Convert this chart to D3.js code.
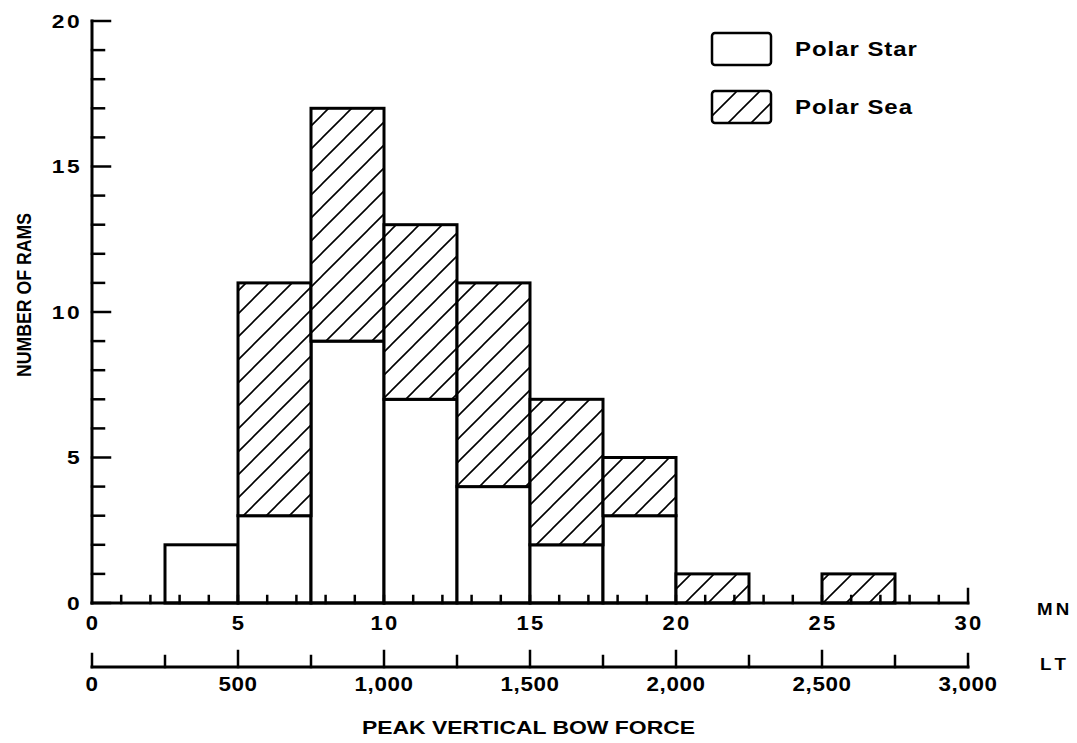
<!DOCTYPE html>
<html>
<head>
<meta charset="utf-8">
<script src="https://cdn.jsdelivr.net/npm/d3@7/dist/d3.min.js"></script>
<style>
  html, body { margin: 0; padding: 0; background: #fff; }
  svg { display: block; }
  text { font-family: "Liberation Sans", Arial, Helvetica, sans-serif; font-weight: bold; fill: #000; }
</style>
</head>
<body>
<svg id="chart" width="1077" height="743"></svg>
<script>
// Histogram bins (lower edge, MN) and counts per ship
const binStart   = [2.5, 5, 7.5, 10, 12.5, 15, 17.5, 20, 22.5, 25];
const binWidth   = 2.5;
const polarStar  = [2, 3, 9, 7, 4, 2, 3, 0, 0, 0];
const polarSea   = [0, 8, 8, 6, 7, 5, 2, 1, 0, 1];

// Axis tick values and labels
const yMajorTicks  = [0, 5, 10, 15, 20];
const yMinorTicks  = d3.range(0, 21);
const mnLabels     = [0, 5, 10, 15, 20, 25, 30];
const mnMinorTicks = d3.range(1, 31);
const ltLabels     = ["0", "500", "1,000", "1,500", "2,000", "2,500", "3,000"];
const ltTicks      = d3.range(0, 3001, 250);

const svg = d3.select("#chart");

const x  = d3.scaleLinear().domain([0, 30]).range([92, 968]);
const lt = d3.scaleLinear().domain([0, 3000]).range([92, 968]);
const y  = d3.scaleLinear().domain([0, 20]).range([603, 21]);

// Text helper: wide lettering, stretched horizontally about its anchor
function label(sel, { x0, y0, size, sx = 1, anchor = "start", spacing = 0, rotate = 0 }) {
  return sel.append("text")
    .attr("transform", `translate(${x0},${y0}) rotate(${rotate}) scale(${sx},1)`)
    .attr("dy", "0.36em")
    .attr("text-anchor", anchor)
    .attr("font-size", size)
    .attr("letter-spacing", spacing);
}

// Diagonal hatch pattern for Polar Sea
const defs = svg.append("defs");
const hatch = defs.append("pattern")
  .attr("id", "hatch")
  .attr("patternUnits", "userSpaceOnUse")
  .attr("width", 23).attr("height", 23);
hatch.append("rect").attr("width", 23).attr("height", 23).attr("fill", "#fff");
hatch.append("path")
  .attr("d", "M-6,6 L6,-6 M0,23 L23,0 M17,29 L29,17")
  .attr("stroke", "#000").attr("stroke-width", 1.6);

const bars = binStart.map((s, i) => ({ s, star: polarStar[i], sea: polarSea[i] }));

// Stacked bars: Polar Star at the bottom, Polar Sea above
const g = svg.append("g");
g.selectAll("rect.star").data(bars.filter(d => d.star > 0)).join("rect")
  .attr("class", "star")
  .attr("x", d => x(d.s))
  .attr("width", d => x(d.s + binWidth) - x(d.s))
  .attr("y", d => y(d.star))
  .attr("height", d => y(0) - y(d.star))
  .attr("fill", "#fff").attr("stroke", "#000").attr("stroke-width", 3);

g.selectAll("rect.sea").data(bars.filter(d => d.sea > 0)).join("rect")
  .attr("class", "sea")
  .attr("x", d => x(d.s))
  .attr("width", d => x(d.s + binWidth) - x(d.s))
  .attr("y", d => y(d.star + d.sea))
  .attr("height", d => y(d.star) - y(d.star + d.sea))
  .attr("fill", "url(#hatch)").attr("stroke", "#000").attr("stroke-width", 3);

// Y axis
const ax = svg.append("g").attr("stroke", "#000").attr("stroke-linecap", "square");
ax.append("line").attr("x1", x(0)).attr("x2", x(0)).attr("y1", y(20)).attr("y2", y(0)).attr("stroke-width", 3);
ax.selectAll("line.ytick").data(yMinorTicks).join("line")
  .attr("class", "ytick")
  .attr("x1", x(0)).attr("x2", d => x(0) + (d % 5 === 0 ? 18 : 12))
  .attr("y1", d => y(d)).attr("y2", d => y(d))
  .attr("stroke-width", 2.5);

yMajorTicks.forEach(d => {
  label(svg, { x0: 82, y0: y(d), size: 19, sx: 1.2, anchor: "end", spacing: 2 }).text(d);
});

// MN axis
ax.append("line").attr("x1", x(0)).attr("x2", x(30)).attr("y1", y(0)).attr("y2", y(0)).attr("stroke-width", 3);
ax.selectAll("line.mntick").data(mnMinorTicks).join("line")
  .attr("class", "mntick")
  .attr("x1", d => x(d)).attr("x2", d => x(d))
  .attr("y1", y(0)).attr("y2", d => y(0) - (d === 30 ? 14 : 7))
  .attr("stroke-width", 2.5);

mnLabels.forEach(d => {
  label(svg, { x0: x(d) + 1, y0: 623, size: 20, sx: 1.1, anchor: "middle", spacing: 2 }).text(d);
});

label(svg, { x0: 1037, y0: 609, size: 17, sx: 1.1, spacing: 3 }).text("MN");

// LT axis
const ltY = 667;
ax.append("line").attr("x1", lt(0)).attr("x2", lt(3000)).attr("y1", ltY).attr("y2", ltY).attr("stroke-width", 3);
ax.selectAll("line.lttick").data(ltTicks).join("line")
  .attr("class", "lttick")
  .attr("x1", d => lt(d)).attr("x2", d => lt(d))
  .attr("y1", ltY).attr("y2", d => ltY - (d === 0 || d === 3000 ? 13 : (d % 500 === 0 ? 16 : 11)))
  .attr("stroke-width", 2.5);

ltLabels.forEach((d, i) => {
  label(svg, { x0: lt(i * 500), y0: 684, size: 20, sx: 1.12, anchor: "middle", spacing: 0.5 }).text(d);
});

label(svg, { x0: 1040, y0: 664, size: 17, sx: 1.1, spacing: 4 }).text("LT");

// Axis titles
svg.append("text")
  .attr("x", 362).attr("y", 728).attr("dy", "0.36em")
  .attr("font-size", 18)
  .attr("textLength", 333).attr("lengthAdjust", "spacingAndGlyphs")
  .text("PEAK VERTICAL BOW FORCE");

svg.append("text")
  .attr("transform", "translate(24,377) rotate(-90)")
  .attr("dy", "0.36em")
  .attr("font-size", 20)
  .attr("textLength", 164).attr("lengthAdjust", "spacingAndGlyphs")
  .text("NUMBER OF RAMS");

// Legend
const legend = [
  { name: "Polar Star", fill: "#fff", y: 33 },
  { name: "Polar Sea", fill: "url(#hatch)", y: 91 }
];
const lg = svg.append("g");
lg.selectAll("rect").data(legend).join("rect")
  .attr("x", 712).attr("y", d => d.y).attr("width", 59).attr("height", 32)
  .attr("rx", 3)
  .attr("fill", d => d.fill).attr("stroke", "#000").attr("stroke-width", 2.5);
legend.forEach(d => {
  label(lg, { x0: 795, y0: d.y + 16, size: 20, sx: 1.2, spacing: 0.8 }).text(d.name);
});
</script>
</body>
</html>
